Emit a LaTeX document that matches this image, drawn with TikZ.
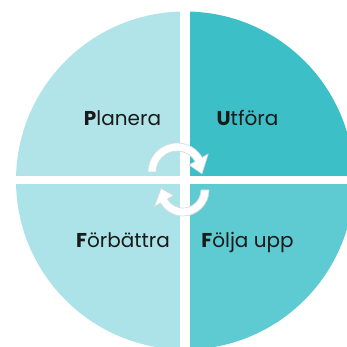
\documentclass[tikz,border=0pt]{standalone}
\usepackage{fontspec}
\setmainfont{Poppins}
\usepackage{xcolor}
\usepackage{tikz}
\usetikzlibrary{positioning}
\definecolor{planfill}{HTML}{B0E4E9}
\definecolor{utforfill}{HTML}{3DBFC7}
\definecolor{forbfill}{HTML}{ABE3E8}
\definecolor{foljfill}{HTML}{5ECAD2}
\definecolor{labeltext}{HTML}{1A1A1A}
\definecolor{arrowedge}{HTML}{D6DCDD}
\tikzstyle{phase} = [anchor=base, inner sep=0pt, text=labeltext, font=\fontsize{20}{24}\selectfont]
\tikzstyle{cyclearrow} = [fill=white, draw=arrowedge, line width=0.7pt, line join=round]

\begin{document}
\begin{tikzpicture}[x=1pt, y=1pt]
    \useasboundingbox (0,0) rectangle (347,347);
    \clip (0,0) rectangle (347,347);
    \coordinate (mid) at (185,166.5);

    % Quadrants
    \fill[planfill] (mid) -- ++(0,169) arc[start angle=90, end angle=180, radius=169] -- cycle;
    \fill[utforfill] (mid) -- ++(169,0) arc[start angle=0, end angle=90, radius=169] -- cycle;
    \fill[forbfill] (mid) -- ++(-169,0) arc[start angle=180, end angle=270, radius=169] -- cycle;
    \fill[foljfill] (mid) -- ++(0,-169) arc[start angle=270, end angle=360, radius=169] -- cycle;
    \fill[white] (180,0) rectangle (190,347);
    \fill[white] (0,162.5) rectangle (347,170.5);

    % Cycle arrows
    \coordinate (topc) at (177,175);
    \coordinate (botc) at (183,157);
    \filldraw[cyclearrow] ([shift={(180:29)}]topc) arc[start angle=180, end angle=30, radius=29]
        -- ([shift={(30:36)}]topc) -- ([shift={(-4:25)}]topc) -- ([shift={(30:14)}]topc)
        -- ([shift={(30:21)}]topc) arc[start angle=30, end angle=180, radius=21] -- cycle;
    \filldraw[cyclearrow] ([shift={(0:26)}]botc) arc[start angle=0, end angle=-150, radius=26]
        -- ([shift={(-150:33)}]botc) -- ([shift={(176:22)}]botc) -- ([shift={(-150:11)}]botc)
        -- ([shift={(-150:18)}]botc) arc[start angle=-150, end angle=0, radius=18] -- cycle;

    % Labels
    \node[phase] (plan) at (122.5,221) {\textbf{P}lanera};
    \node[phase] (utfor) at (247.5,221) {\textbf{U}tföra};
    \node[phase] (forb) at (123,99) {\textbf{F}örbättra};
    \node[phase] (folj) at (247.5,99) {\textbf{F}ölja upp};
\end{tikzpicture}
\end{document}
